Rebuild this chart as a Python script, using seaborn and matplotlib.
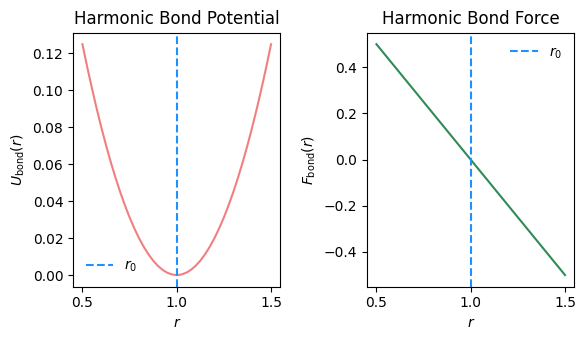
import matplotlib
matplotlib.use("Agg")
import matplotlib.pyplot as plt
import seaborn as sns
import pandas as pd

# Values
r_values = [0.500, 0.525, 0.550, 0.575, 0.600, 0.625, 0.650, 0.675, 0.700, 0.725,
            0.750, 0.775, 0.800, 0.825, 0.850, 0.875, 0.900, 0.925, 0.950, 0.975,
            1.000, 1.025, 1.050, 1.075, 1.100, 1.125, 1.150, 1.175, 1.200, 1.225,
            1.250, 1.275, 1.300, 1.325, 1.350, 1.375, 1.400, 1.425, 1.450, 1.475, 1.500]
u_values = [0.12500, 0.11281, 0.10125, 0.09031, 0.08000, 0.07031, 0.06125, 0.05281,
            0.04500, 0.03781, 0.03125, 0.02531, 0.02000, 0.01531, 0.01125, 0.00781,
            0.00500, 0.00281, 0.00125, 0.00031, 0.00000, 0.00031, 0.00125, 0.00281,
            0.00500, 0.00781, 0.01125, 0.01531, 0.02000, 0.02531, 0.03125, 0.03781,
            0.04500, 0.05281, 0.06125, 0.07031, 0.08000, 0.09031, 0.10125, 0.11281, 0.12500]
f_r_values = [0.5, 0.75, 1.0, 1.25, 1.5]
f_values = [0.5, 0.25, 0.0, -0.25, -0.5]
r0 = 1.0

df_u = pd.DataFrame({"r": r_values, "U": u_values})
df_f = pd.DataFrame({"r": f_r_values, "F": f_values})

fig, axes = plt.subplots(1, 2, figsize=(5.85, 3.4), dpi=100)
fig.subplots_adjust(left=0.1248, right=0.982, top=0.904, bottom=0.157, wspace=0.417)

ax = axes[0]
sns.lineplot(data=df_u, x="r", y="U", ax=ax, color="lightcoral")
ax.axvline(r0, color="dodgerblue", linestyle="--", label=r"$r_0$")
ax.set_title("Harmonic Bond Potential")
ax.set_xlabel(r"$r$")
ax.set_ylabel(r"$U_{\mathrm{bond}}(r)$")
ax.legend(loc="lower left", frameon=False)

ax = axes[1]
sns.lineplot(data=df_f, x="r", y="F", ax=ax, color="seagreen")
ax.axvline(r0, color="dodgerblue", linestyle="--", label=r"$r_0$")
ax.set_title("Harmonic Bond Force")
ax.set_xlabel(r"$r$")
ax.set_ylabel(r"$F_{\mathrm{bond}}(r)$")
ax.legend(loc="upper right", frameon=False)

fig.savefig("out.png", dpi=100)
